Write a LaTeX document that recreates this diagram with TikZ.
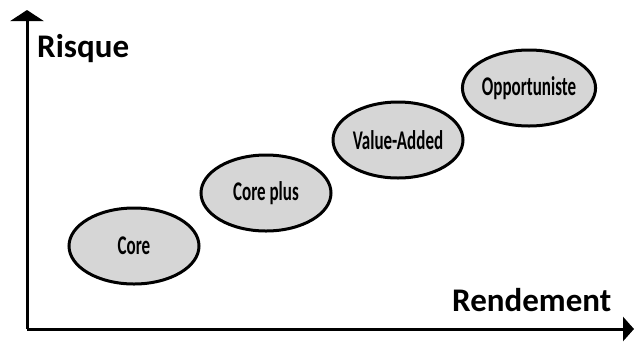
\documentclass[tikz,border=0pt]{standalone}
\usepackage{fontspec}
\setmainfont{Carlito}
\newfontfamily\etroit[FakeStretch=0.63]{Carlito}
\usetikzlibrary{arrows.meta, shapes.geometric}
\tikzset{
  bulle/.style = {ellipse, draw=black, line width=3pt, fill=gray!32,
    minimum width=130pt, minimum height=76pt, inner sep=0pt,
    font=\etroit\fontsize{27}{27}\selectfont\bfseries},
  titre/.style = {anchor=base west, inner sep=0pt,
    font=\fontsize{33}{33}\selectfont\bfseries}
}

\begin{document}
\begin{tikzpicture}[x=1pt, y=-1pt]
\useasboundingbox (0,0) rectangle (639,341);

% origine et extremites des axes
\coordinate (O) at (27,329);
\coordinate (haut) at (27,10);
\coordinate (droite) at (634,329);

% les axes
\draw[line width=3pt, -{Triangle[length=11pt, width=33pt]}] (O) -- (haut);
\draw[line width=3pt, -{Triangle[length=11pt, width=24pt]}] (O) -- (droite);

% noms des axes
\node[titre] (risque) at (37,57) {Risque};
\node[titre] (rendement) at (452,311) {Rendement};

% les strategies
\node[bulle] (core) at (134,246) {Core};
\node[bulle] (coreplus) at (266,193) {Core plus};
\node[bulle] (value) at (398,140) {Value-Added};
\node[bulle] (opport) at (529,88) {Opportuniste};
\end{tikzpicture}
\end{document}
